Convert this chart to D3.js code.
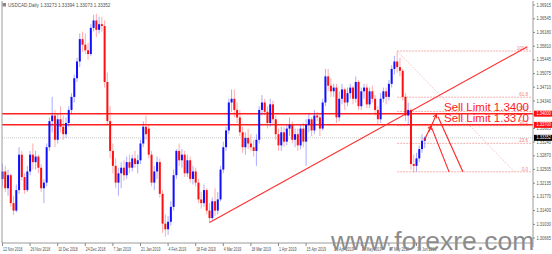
<!DOCTYPE html>
<html><head><meta charset="utf-8">
<script src="https://cdn.jsdelivr.net/npm/d3@7"></script>
<style>body{margin:0;background:#fff;overflow:hidden}svg{display:block}</style>
</head><body>
<script>
const titleText = "USDCAD,Daily  1.33273 1.33394 1.33073 1.33352";
const dateLabels = ["12 Nov 2018","26 Nov 2018","10 Dec 2018","24 Dec 2018","7 Jan 2019","21 Jan 2019","4 Feb 2019","18 Feb 2019","4 Mar 2019","18 Mar 2019","1 Apr 2019","15 Apr 2019","29 Apr 2019","13 May 2019","27 May 2019","10 Jun 2019"];
const dateLabelBars = [0,10,20,30,40,50,60,70,80,90,100,110,120,130,140,150];
const priceTicks = [1.36915,1.36545,1.36180,1.35810,1.35445,1.35075,1.34710,1.34340,1.33970,1.33605,1.33240,1.32870,1.32505,1.32135,1.31770,1.31400,1.31030,1.30665];
const opens = [1.3225,1.3245,1.3200,1.3235,1.3160,1.3140,1.3195,1.3290,1.3230,1.3195,1.3245,1.3290,1.3270,1.3285,1.3255,1.3200,1.3215,1.3310,1.3380,1.3395,
1.3330,1.3385,1.3365,1.3345,1.3375,1.3410,1.3445,1.3495,1.3540,1.3600,1.3585,1.3570,1.3560,1.3630,1.3650,1.3625,1.3640,1.3635,1.3485,1.3380,
1.3300,1.3260,1.3215,1.3240,1.3255,1.3235,1.3270,1.3255,1.3280,1.3265,1.3275,1.3320,1.3365,1.3360,1.3290,1.3215,1.3245,1.3270,1.3185,1.3105,
1.3090,1.3110,1.3150,1.3235,1.3300,1.3275,1.3290,1.3240,1.3275,1.3225,1.3245,1.3215,1.3170,1.3160,1.3195,1.3140,1.3120,1.3165,1.3140,1.3170,
1.3250,1.3310,1.3355,1.3430,1.3440,1.3410,1.3390,1.3350,1.3310,1.3335,1.3320,1.3310,1.3300,1.3330,1.3410,1.3430,1.3405,1.3375,1.3425,1.3385,
1.3345,1.3315,1.3350,1.3325,1.3360,1.3370,1.3330,1.3345,1.3315,1.3360,1.3325,1.3370,1.3385,1.3355,1.3395,1.3390,1.3360,1.3430,1.3500,1.3475,
1.3460,1.3470,1.3390,1.3440,1.3465,1.3430,1.3455,1.3470,1.3440,1.3485,1.3420,1.3460,1.3470,1.3425,1.3460,1.3440,1.3410,1.3385,1.3440,1.3460,
1.3445,1.3480,1.3520,1.3540,1.3525,1.3515,1.3445,1.3395,1.3410,1.3265,1.3260,1.3280,1.3305,1.33273];
const highs = [1.3265,1.3260,1.3250,1.3240,1.3180,1.3210,1.3310,1.3300,1.3240,1.3260,1.3300,1.3320,1.3300,1.3290,1.3265,1.3225,1.3320,1.3390,1.3445,1.3410,
1.3400,1.3420,1.3395,1.3390,1.3420,1.3455,1.3505,1.3550,1.3615,1.3620,1.3615,1.3590,1.3640,1.3665,1.3668,1.3660,1.3660,1.3650,1.3510,1.3420,
1.3320,1.3280,1.3255,1.3270,1.3275,1.3285,1.3290,1.3290,1.3300,1.3290,1.3330,1.3380,1.3395,1.3370,1.3300,1.3260,1.3285,1.3280,1.3195,1.3130,
1.3125,1.3165,1.3250,1.3305,1.3320,1.3305,1.3300,1.3290,1.3285,1.3260,1.3255,1.3225,1.3190,1.3210,1.3200,1.3160,1.3175,1.3200,1.3190,1.3260,
1.3325,1.3365,1.3440,1.3465,1.3465,1.3430,1.3410,1.3365,1.3350,1.3360,1.3345,1.3330,1.3345,1.3420,1.3450,1.3440,1.3420,1.3440,1.3435,1.3395,
1.3360,1.3365,1.3365,1.3370,1.3390,1.3380,1.3360,1.3360,1.3370,1.3375,1.3385,1.3400,1.3390,1.3410,1.3405,1.3400,1.3440,1.3520,1.3520,1.3495,
1.3480,1.3480,1.3460,1.3480,1.3470,1.3470,1.3480,1.3475,1.3500,1.3490,1.3470,1.3480,1.3480,1.3470,1.3475,1.3450,1.3420,1.3455,1.3470,1.3470,
1.3490,1.3530,1.3555,1.3566,1.3550,1.3520,1.3455,1.3430,1.3415,1.3290,1.3295,1.3315,1.3345,1.33394];
const lows = [1.3205,1.3190,1.3180,1.3150,1.3128,1.3135,1.3185,1.3220,1.3185,1.3190,1.3235,1.3250,1.3250,1.3240,1.3190,1.3160,1.3205,1.3300,1.3350,1.3310,
1.3320,1.3350,1.3330,1.3335,1.3365,1.3400,1.3430,1.3485,1.3525,1.3565,1.3560,1.3545,1.3555,1.3620,1.3605,1.3615,1.3620,1.3470,1.3370,1.3280,
1.3240,1.3200,1.3180,1.3200,1.3220,1.3225,1.3240,1.3245,1.3255,1.3240,1.3265,1.3310,1.3330,1.3280,1.3205,1.3195,1.3225,1.3175,1.3080,1.3070,
1.3075,1.3100,1.3140,1.3225,1.3260,1.3255,1.3230,1.3230,1.3215,1.3210,1.3205,1.3160,1.3145,1.3150,1.3130,1.3108,1.3115,1.3125,1.3130,1.3165,
1.3240,1.3300,1.3345,1.3405,1.3390,1.3375,1.3340,1.3295,1.3290,1.3305,1.3300,1.3285,1.3260,1.3320,1.3395,1.3395,1.3360,1.3365,1.3370,1.3330,
1.3300,1.3300,1.3310,1.3315,1.3340,1.3320,1.3310,1.3300,1.3305,1.3310,1.3260,1.3350,1.3340,1.3345,1.3380,1.3340,1.3355,1.3420,1.3460,1.3445,
1.3445,1.3375,1.3380,1.3425,1.3410,1.3420,1.3440,1.3425,1.3430,1.3410,1.3410,1.3440,1.3415,1.3415,1.3430,1.3395,1.3370,1.3375,1.3430,1.3425,
1.3435,1.3470,1.3505,1.3510,1.3500,1.3435,1.3380,1.3370,1.3250,1.3243,1.3245,1.3270,1.3295,1.33073];
const closes = [1.3245,1.3200,1.3235,1.3160,1.3140,1.3195,1.3290,1.3230,1.3195,1.3245,1.3290,1.3270,1.3285,1.3255,1.3200,1.3215,1.3310,1.3380,1.3395,1.3330,
1.3385,1.3365,1.3345,1.3375,1.3410,1.3445,1.3495,1.3540,1.3600,1.3585,1.3570,1.3560,1.3630,1.3650,1.3625,1.3640,1.3635,1.3485,1.3380,1.3300,
1.3260,1.3215,1.3240,1.3255,1.3235,1.3270,1.3255,1.3280,1.3265,1.3275,1.3320,1.3365,1.3345,1.3290,1.3215,1.3245,1.3270,1.3185,1.3105,1.3090,
1.3110,1.3150,1.3235,1.3300,1.3275,1.3290,1.3240,1.3275,1.3225,1.3245,1.3215,1.3170,1.3160,1.3195,1.3140,1.3120,1.3165,1.3140,1.3170,1.3250,
1.3310,1.3355,1.3430,1.3440,1.3410,1.3390,1.3350,1.3310,1.3335,1.3320,1.3310,1.3300,1.3330,1.3410,1.3430,1.3405,1.3375,1.3425,1.3385,1.3345,
1.3315,1.3350,1.3325,1.3360,1.3370,1.3330,1.3345,1.3315,1.3360,1.3325,1.3370,1.3385,1.3355,1.3395,1.3390,1.3360,1.3430,1.3500,1.3475,1.3460,
1.3470,1.3390,1.3440,1.3465,1.3430,1.3455,1.3470,1.3440,1.3485,1.3420,1.3460,1.3470,1.3425,1.3460,1.3440,1.3410,1.3385,1.3440,1.3460,1.3445,
1.3480,1.3520,1.3540,1.3525,1.3515,1.3445,1.3395,1.3410,1.3265,1.3260,1.3280,1.3305,1.33273,1.33352];
const sellLevels = [1.3400, 1.3370];
const sellTexts = ["Sell Limit 1.3400", "Sell Limit 1.3370"];
const sellAxisTexts = ["1.34000", "1.33700"];
const lastPrice = 1.33352;
const lastPriceText = "1.33352";
const fibLevels = [100, 61.8, 50, 38.2, 23.6, 0];
const fibLabels = ["100.0", "61.8", "50.0", "38.2", "23.6", "0.0"];
const fibHigh = {bar: 143, price: 1.3568};
const fibLow = {bar: 185.5, price: 1.3244};
const trendPts = [{bar: 75, price: 1.3108}, {bar: 190, price: 1.3579}];
const arrowUp = [[{bar: 152.8, price: 1.3329}, {bar: 155.3, price: 1.3367}], [{bar: 154.5, price: 1.3352}, {bar: 157.2, price: 1.3398}]];
const arrowDown = [[{bar: 155.5, price: 1.3362}, {bar: 161.8, price: 1.3244}], [{bar: 157.8, price: 1.3392}, {bar: 166.8, price: 1.3244}]];
const watermark = "www.forexre.com";

const W = 552, H = 254;
const plotL = 2, plotR = 533, plotT = 1, plotB = 243;
const FONT = "Liberation Sans, Arial, sans-serif";
const svg = d3.select("body").append("svg").attr("width", W).attr("height", H);

const x = d3.scaleLinear().domain([0, 190]).range([2.5, 2.5 + 190 * 2.76]);
const y = d3.scaleLinear().domain([1.30665, 1.36915]).range([238, 5]);

const plot = svg.append("g");
svg.append("line").attr("x1", plotL).attr("x2", plotL).attr("y1", plotT).attr("y2", plotB).attr("stroke", "#9a9a9a");
svg.append("line").attr("x1", plotL).attr("x2", plotR).attr("y1", plotB).attr("y2", plotB).attr("stroke", "#9a9a9a");
svg.append("line").attr("x1", plotR).attr("x2", plotR).attr("y1", plotT).attr("y2", plotB + 4).attr("stroke", "#9a9a9a");

plot.append("line").attr("x1", plotL).attr("x2", plotR).attr("y1", y(lastPrice)).attr("y2", y(lastPrice))
  .attr("stroke", "#c8c8c8").attr("stroke-dasharray", "1,1");

const fibColor = "#f29a9a";
const fibPrice = l => fibLow.price + (fibHigh.price - fibLow.price) * l / 100;
plot.selectAll(".fib").data(fibLevels).join("line")
  .attr("x1", x(fibHigh.bar)).attr("x2", plotR - 2)
  .attr("y1", d => y(fibPrice(d))).attr("y2", d => y(fibPrice(d)))
  .attr("stroke", fibColor).attr("stroke-width", 0.8).attr("stroke-dasharray", "2,1");
plot.append("line").attr("x1", x(fibHigh.bar)).attr("y1", y(fibHigh.price))
  .attr("x2", x(fibLow.bar)).attr("y2", y(fibLow.price))
  .attr("stroke", fibColor).attr("stroke-width", 0.8).attr("stroke-dasharray", "1,1.5");
plot.selectAll(".fibt").data(fibLevels).join("text")
  .attr("x", plotR - 5).attr("y", d => y(fibPrice(d)) - 1.2)
  .attr("text-anchor", "end").attr("font-family", FONT).attr("font-size", 4.5)
  .attr("fill", "#f08080").text((d, i) => fibLabels[i]);

plot.selectAll(".sl").data(sellLevels).join("line")
  .attr("x1", plotL).attr("x2", plotR).attr("y1", d => y(d)).attr("y2", d => y(d))
  .attr("stroke", "#ff2020").attr("stroke-width", 1.5);

plot.append("line").attr("x1", x(trendPts[0].bar)).attr("y1", y(trendPts[0].price))
  .attr("x2", x(trendPts[1].bar)).attr("y2", y(trendPts[1].price))
  .attr("stroke", "#ff3030").attr("stroke-width", 1.1);

const data = closes.map((c, i) => ({i, o: opens[i], h: highs[i], l: lows[i], c}));
const up = "#1010ff", dn = "#ff1010";
plot.selectAll(".wick").data(data).join("line")
  .attr("x1", d => x(d.i)).attr("x2", d => x(d.i))
  .attr("y1", d => y(d.h)).attr("y2", d => y(d.l))
  .attr("stroke", d => d.c >= d.o ? up : dn).attr("stroke-opacity", 0.35).attr("stroke-width", 1);
plot.selectAll(".body").data(data).join("rect")
  .attr("x", d => x(d.i) - 1).attr("width", 2)
  .attr("y", d => y(Math.max(d.o, d.c)))
  .attr("height", d => Math.max(1, Math.abs(y(d.o) - y(d.c))))
  .attr("fill", d => d.c >= d.o ? up : dn);

const arrowLine = (pts, head) => {
  const x1 = x(pts[0].bar), y1 = y(pts[0].price), x2 = x(pts[1].bar), y2 = y(pts[1].price);
  plot.append("line").attr("x1", x1).attr("y1", y1).attr("x2", x2).attr("y2", y2)
    .attr("stroke", "#ff2020").attr("stroke-width", 1.1);
  if (head) {
    const a = Math.atan2(y2 - y1, x2 - x1), L = 4;
    const p = [[x2 - L * Math.cos(a - 0.5), y2 - L * Math.sin(a - 0.5)], [x2, y2], [x2 - L * Math.cos(a + 0.5), y2 - L * Math.sin(a + 0.5)]];
    plot.append("path").attr("d", d3.line()(p)).attr("fill", "none").attr("stroke", "#ff2020").attr("stroke-width", 1.1);
  }
};
arrowUp.forEach(p => arrowLine(p, true));
arrowDown.forEach(p => arrowLine(p, false));

plot.selectAll(".st").data(sellLevels).join("text")
  .attr("x", 444).attr("y", d => y(d) - 3)
  .attr("font-family", FONT).attr("font-size", 11.5).attr("fill", "#ff1a1a")
  .text((d, i) => sellTexts[i]);

const ax = svg.append("g");
ax.selectAll(".pt").data(priceTicks).join("text")
  .attr("x", plotR + 3.5).attr("y", d => y(d) + 1.6)
  .attr("font-family", FONT).attr("font-size", 4.6).attr("fill", "#505050")
  .attr("textLength", 14.5).attr("lengthAdjust", "spacingAndGlyphs")
  .text(d => d.toFixed(5));
ax.selectAll(".ptk").data(priceTicks).join("line")
  .attr("x1", plotR).attr("x2", plotR + 2).attr("y1", d => y(d)).attr("y2", d => y(d)).attr("stroke", "#888");
const tags = sellLevels.map((v, i) => ({v, t: sellAxisTexts[i], c: "#ff1010"})).concat([{v: lastPrice, t: lastPriceText, c: "#000"}]);
ax.selectAll(".tagr").data(tags).join("rect")
  .attr("x", plotR + 1).attr("width", W - plotR - 1).attr("y", d => y(d.v) - 3).attr("height", 6).attr("fill", d => d.c);
ax.selectAll(".tagt").data(tags).join("text")
  .attr("x", plotR + 3.5).attr("y", d => y(d.v) + 1.6)
  .attr("font-family", FONT).attr("font-size", 4.6).attr("fill", "#fff")
  .attr("textLength", 14.5).attr("lengthAdjust", "spacingAndGlyphs").text(d => d.t);

ax.selectAll(".xt").data(dateLabelBars).join("line")
  .attr("x1", d => x(d)).attr("x2", d => x(d)).attr("y1", plotB).attr("y2", plotB + 3).attr("stroke", "#888");
ax.selectAll(".xl").data(dateLabelBars).join("text")
  .attr("x", d => x(d) + 0.5).attr("y", plotB + 7.5)
  .attr("font-family", FONT).attr("font-size", 4.6).attr("fill", "#505050")
  .attr("textLength", (d, i) => dateLabels[i].length > 10 ? 19.5 : 17.5).attr("lengthAdjust", "spacingAndGlyphs")
  .text((d, i) => dateLabels[i]);

svg.append("rect").attr("x", 2.5).attr("y", 3).attr("width", 3.5).attr("height", 3.5).attr("fill", "#888");
svg.append("text").attr("x", 8).attr("y", 7).attr("font-family", FONT).attr("font-size", 4.6)
  .attr("fill", "#505050").text(titleText);

svg.append("text").attr("x", 331).attr("y", 250).attr("font-family", FONT).attr("font-size", 26.5)
  .attr("fill", "#8c8c8c").text(watermark);
</script>
</body></html>
